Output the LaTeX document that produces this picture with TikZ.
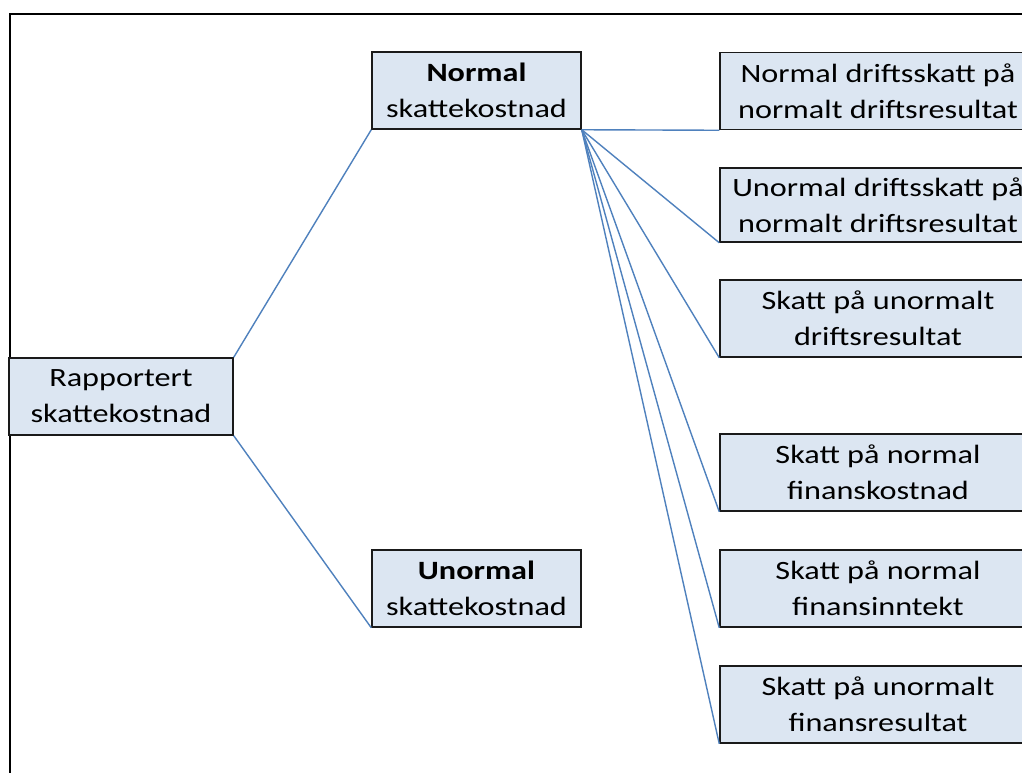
\documentclass[tikz,border=0pt]{standalone}
\usepackage{fontspec}
\setmainfont{Carlito}[FakeStretch=1.22]
\definecolor{boxfill}{HTML}{DCE6F2}
\definecolor{boxline}{HTML}{1A1A1A}
\definecolor{linkblue}{RGB}{79,129,189}
\tikzset{
  x=1pt, y=-1pt,
  tbox/.style={draw=boxline, fill=boxfill, line width=1.5pt, inner sep=0pt,
    align=center, font=\fontsize{26.4}{36}\selectfont},
  leftbox/.style={tbox, minimum width=209pt, minimum height=77pt},
  rightbox/.style={tbox, minimum width=316pt, minimum height=77pt},
  link/.style={draw=linkblue, line width=1.4pt}
}
\begin{document}
\begin{tikzpicture}
\useasboundingbox (0,0) rectangle (1022,772);
\fill[white] (0,0) rectangle (1022,772);
% outer frame
\draw[black, line width=2pt] (9.5,800) -- (9.5,13.5) -- (1040,13.5);

% boxes
\node[tbox, minimum width=224pt, minimum height=77pt] (rap) at (121,396.5) {Rapportert\\skattekostnad};
\node[leftbox] (nrm) at (476.5,90.5) {\textbf{Normal}\\skattekostnad};
\node[leftbox] (unr) at (476.5,588.5) {\textbf{Unormal}\\skattekostnad};

\node[rightbox] (r1) at (878,91) {Normal driftsskatt på\\normalt driftsresultat};
\node[rightbox, minimum height=74pt] (r2) at (878,205) {Unormal driftsskatt på\\normalt driftsresultat};
\node[rightbox] (r3) at (878,318.5) {Skatt på unormalt\\driftsresultat};
\node[rightbox] (r4) at (878,472.5) {Skatt på normal\\finanskostnad};
\node[rightbox] (r5) at (878,588.5) {Skatt på normal\\finansinntekt};
\node[rightbox] (r6) at (878,704.5) {Skatt på unormalt\\finansresultat};

% connectors
\draw[link] (rap.north east) -- (nrm.south west);
\draw[link] (rap.south east) -- (unr.south west);
\foreach \t in {r1,r2,r3,r4,r5,r6}
  \draw[link] (nrm.south east) -- (\t.south west);
\end{tikzpicture}
\end{document}
